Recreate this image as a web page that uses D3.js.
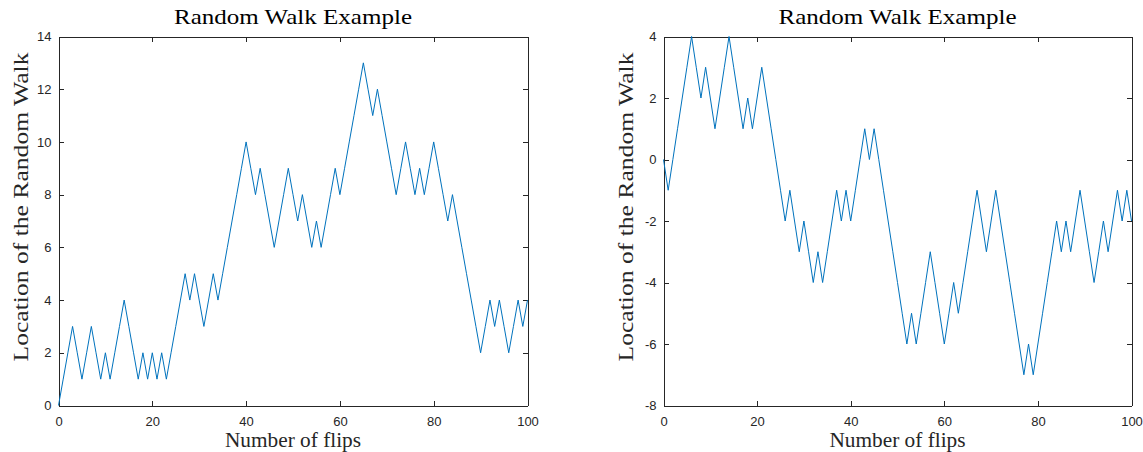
<!DOCTYPE html>
<html>
<head>
<meta charset="utf-8">
<script src="https://cdn.jsdelivr.net/npm/d3@7"></script>
<style>
  html, body { margin: 0; padding: 0; background: #fff; }
  svg { display: block; }
</style>
</head>
<body>
<svg id="fig" width="1143" height="452"></svg>
<script>
// Position of each random walk after every coin flip (flip 0 .. 100)
const walkLeft = [
  0, 1, 2, 3, 2, 1, 2, 3, 2, 1,
  2, 1, 2, 3, 4, 3, 2, 1, 2, 1,
  2, 1, 2, 1, 2, 3, 4, 5, 4, 5,
  4, 3, 4, 5, 4, 5, 6, 7, 8, 9,
  10, 9, 8, 9, 8, 7, 6, 7, 8, 9,
  8, 7, 8, 7, 6, 7, 6, 7, 8, 9,
  8, 9, 10, 11, 12, 13, 12, 11, 12, 11,
  10, 9, 8, 9, 10, 9, 8, 9, 8, 9,
  10, 9, 8, 7, 8, 7, 6, 5, 4, 3,
  2, 3, 4, 3, 4, 3, 2, 3, 4, 3,
  4
];
const walkRight = [
  0, -1, 0, 1, 2, 3, 4, 3, 2, 3,
  2, 1, 2, 3, 4, 3, 2, 1, 2, 1,
  2, 3, 2, 1, 0, -1, -2, -1, -2, -3,
  -2, -3, -4, -3, -4, -3, -2, -1, -2, -1,
  -2, -1, 0, 1, 0, 1, 0, -1, -2, -3,
  -4, -5, -6, -5, -6, -5, -4, -3, -4, -5,
  -6, -5, -4, -5, -4, -3, -2, -1, -2, -3,
  -2, -1, -2, -3, -4, -5, -6, -7, -6, -7,
  -6, -5, -4, -3, -2, -3, -2, -3, -2, -1,
  -2, -3, -4, -3, -2, -3, -2, -1, -2, -1,
  -2
];

const xTicks = [0, 20, 40, 60, 80, 100];
const yTicksLeft = [0, 2, 4, 6, 8, 10, 12, 14];
const yTicksRight = [-8, -6, -4, -2, 0, 2, 4];

const titleText = "Random Walk Example";
const xLabelText = "Number of flips";
const yLabelText = "Location of the Random Walk";

const AXIS_COLOR = "#262626";
const LINE_COLOR = "#0072BD";
const SERIF = "'Liberation Serif', 'Times New Roman', serif";
const SANS = "'Liberation Sans', Arial, Helvetica, sans-serif";

const svg = d3.select("#fig");

function drawPanel(opts) {
  const { left, right, top, bottom, walk, yDomain, yTicks } = opts;
  const g = svg.append("g");

  const x = d3.scaleLinear().domain([0, walk.length - 1]).range([left, right]);
  const y = d3.scaleLinear().domain(yDomain).range([bottom, top]);
  const fmt = d => String(d);
  const tick = 5;

  // bottom axis with labels, ticks pointing inward
  g.append("g")
    .attr("transform", `translate(0,${bottom})`)
    .call(d3.axisBottom(x).tickValues(xTicks).tickFormat(fmt)
      .tickSizeInner(-tick).tickSizeOuter(0).tickPadding(11));
  // mirrored top axis
  g.append("g")
    .attr("transform", `translate(0,${top})`)
    .call(d3.axisTop(x).tickValues(xTicks).tickFormat("")
      .tickSizeInner(-tick).tickSizeOuter(0));
  // left axis with labels
  g.append("g")
    .attr("transform", `translate(${left},0)`)
    .call(d3.axisLeft(y).tickValues(yTicks).tickFormat(fmt)
      .tickSizeInner(-tick).tickSizeOuter(0).tickPadding(7));
  // mirrored right axis
  g.append("g")
    .attr("transform", `translate(${right},0)`)
    .call(d3.axisRight(y).tickValues(yTicks).tickFormat("")
      .tickSizeInner(-tick).tickSizeOuter(0));

  g.selectAll(".domain, .tick line")
    .attr("stroke", AXIS_COLOR)
    .attr("stroke-width", 1)
    .attr("shape-rendering", "crispEdges");
  g.selectAll(".tick text")
    .attr("fill", AXIS_COLOR)
    .style("font-family", SANS)
    .style("font-size", "13px");

  // the walk itself
  const line = d3.line()
    .x((d, i) => x(i))
    .y(d => y(d));
  g.append("path")
    .datum(walk)
    .attr("fill", "none")
    .attr("stroke", LINE_COLOR)
    .attr("stroke-width", 1)
    .attr("stroke-linejoin", "miter")
    .attr("d", line);

  const cx = (left + right) / 2;

  // title
  g.append("text")
    .attr("x", cx)
    .attr("y", 24)
    .attr("text-anchor", "middle")
    .attr("textLength", 238)
    .attr("lengthAdjust", "spacingAndGlyphs")
    .style("font-family", SERIF)
    .style("font-size", "22px")
    .attr("fill", "#000")
    .text(titleText);

  // x label
  g.append("text")
    .attr("x", cx)
    .attr("y", 447)
    .attr("text-anchor", "middle")
    .attr("textLength", 136)
    .attr("lengthAdjust", "spacingAndGlyphs")
    .style("font-family", SERIF)
    .style("font-size", "21px")
    .attr("fill", AXIS_COLOR)
    .text(xLabelText);

  // y label
  g.append("text")
    .attr("transform", `translate(${left - 31},207) rotate(-90)`)
    .attr("text-anchor", "middle")
    .attr("textLength", 309)
    .attr("lengthAdjust", "spacingAndGlyphs")
    .style("font-family", SERIF)
    .style("font-size", "21px")
    .attr("fill", AXIS_COLOR)
    .text(yLabelText);
}

drawPanel({
  left: 58.5, right: 527.5, top: 36.5, bottom: 405.5,
  walk: walkLeft, yDomain: [0, 14], yTicks: yTicksLeft
});
drawPanel({
  left: 663.5, right: 1131.5, top: 36.5, bottom: 405.5,
  walk: walkRight, yDomain: [-8, 4], yTicks: yTicksRight
});
</script>
</body>
</html>
